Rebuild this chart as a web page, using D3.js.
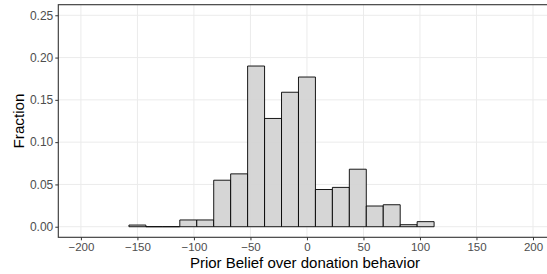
<!DOCTYPE html>
<html>
<head>
<meta charset="utf-8">
<script src="https://cdn.jsdelivr.net/npm/d3@7"></script>
<style>
  body { margin: 0; background: #fff; }
  svg { display: block; font-family: "Liberation Sans", Arial, sans-serif; }
</style>
</head>
<body>
<svg id="chart" width="547" height="274"></svg>
<script>
// histogram bins, width 15, centred on multiples of 15
const binCenters = [-150, -135, -120, -105, -90, -75, -60, -45, -30, -15, 0, 15, 30, 45, 60, 75, 90, 105]
const fractions = [0.002, 0, 0, 0.008, 0.008, 0.055, 0.0625, 0.190, 0.128, 0.159, 0.177, 0.044, 0.0465, 0.068, 0.0245, 0.026, 0.0024, 0.006]
const binWidth = 15
const xTicks = [-200, -150, -100, -50, 0, 50, 100, 150, 200]
const yTicks = [0, 0.05, 0.10, 0.15, 0.20, 0.25]

const svg = d3.select('#chart')

// panel runs past the right edge of the picture, like the reference
const margin = { left: 58.3, top: 4.7, bottom: 36.7 }
const panelRight = 555.6
const panelBottom = 274 - margin.bottom

const x = d3.scaleLinear().domain([-220, 220]).range([margin.left, panelRight])
const y = d3.scaleLinear().domain([-0.0125, 0.2625]).range([panelBottom, margin.top])

const panel = svg.append('g')

panel.append('rect')
  .attr('x', margin.left).attr('y', margin.top)
  .attr('width', panelRight - margin.left).attr('height', panelBottom - margin.top)
  .attr('fill', '#fff')

// grid
panel.selectAll('.gx').data(xTicks).enter().append('line')
  .attr('x1', d => x(d)).attr('x2', d => x(d))
  .attr('y1', margin.top).attr('y2', panelBottom)
  .attr('stroke', '#ebebeb').attr('stroke-width', 1)

panel.selectAll('.gy').data(yTicks).enter().append('line')
  .attr('x1', margin.left).attr('x2', panelRight)
  .attr('y1', d => y(d)).attr('y2', d => y(d))
  .attr('stroke', '#ebebeb').attr('stroke-width', 1)

// bars as paths so empty bins still show their outline
panel.selectAll('.bar').data(binCenters).enter().append('path')
  .attr('d', (d, i) => {
    const x0 = x(d - binWidth / 2), x1 = x(d + binWidth / 2)
    const y0 = y(0), y1 = y(fractions[i])
    return `M${x0},${y0}V${y1}H${x1}V${y0}Z`
  })
  .attr('fill', '#d3d3d3').attr('fill-opacity', 0.92)
  .attr('stroke', '#000').attr('stroke-width', 0.9)

// border
panel.append('rect')
  .attr('x', margin.left).attr('y', margin.top)
  .attr('width', panelRight - margin.left).attr('height', panelBottom - margin.top)
  .attr('fill', 'none').attr('stroke', '#333').attr('stroke-width', 1.1)

// axes
const xAxis = svg.append('g')
  .attr('transform', `translate(0,${panelBottom})`)
  .call(d3.axisBottom(x).tickValues(xTicks).tickSize(3).tickPadding(3)
    .tickFormat(d => d < 0 ? '\u2212' + Math.abs(d) : d))
xAxis.select('.domain').remove()
xAxis.selectAll('line').attr('stroke', '#333')
xAxis.selectAll('text').attr('fill', '#4d4d4d').attr('font-size', 11.5)
  .attr('font-family', '"Liberation Sans", Arial, sans-serif')

const yAxis = svg.append('g')
  .attr('transform', `translate(${margin.left},0)`)
  .call(d3.axisLeft(y).tickValues(yTicks).tickSize(3).tickPadding(2)
    .tickFormat(d3.format('.2f')))
yAxis.select('.domain').remove()
yAxis.selectAll('line').attr('stroke', '#333')
yAxis.selectAll('text').attr('fill', '#4d4d4d').attr('font-size', 12)
  .attr('font-family', '"Liberation Sans", Arial, sans-serif')

// titles
svg.append('text')
  .attr('x', (margin.left + panelRight) / 2 - 2).attr('y', 268)
  .attr('text-anchor', 'middle').attr('font-size', 15).attr('fill', '#000')
  .text('Prior Belief over donation behavior')

svg.append('text')
  .attr('transform', `translate(24,${(margin.top + panelBottom) / 2}) rotate(-90)`)
  .attr('text-anchor', 'middle').attr('font-size', 15.2).attr('fill', '#000')
  .text('Fraction')
</script>
</body>
</html>
